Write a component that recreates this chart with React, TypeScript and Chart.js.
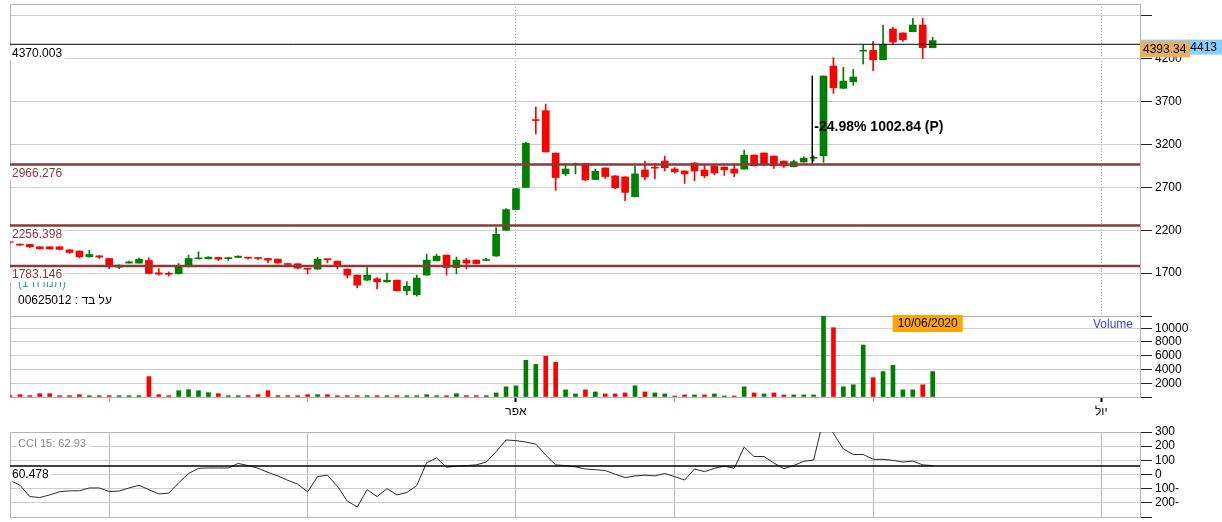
import React, { useEffect, useRef } from 'react';
import { Chart, registerables } from 'chart.js';
Chart.register(...registerables);

const FAMILY = '"Liberation Sans", Arial, "DejaVu Sans", sans-serif';
Chart.defaults.font.family = FAMILY;

// ---- data ----
const opens = [2110, 2035, 2035, 2007, 2007, 2007, 1972, 1957, 1891, 1902, 1871, 1770, 1817, 1817, 1848, 1704, 1690, 1692, 1774, 1867, 1867, 1883, 1869, 1883, 1883, 1875, 1871, 1863, 1805, 1809, 1749, 1747, 1860, 1840, 1747, 1677, 1618, 1634, 1599, 1618, 1494, 1447, 1677, 1844, 1910, 1766, 1852, 1852, 1848, 1900, 2200, 2442, 2700, 3490, 3596, 3100, 2858, 2965, 2981, 2792, 2927, 2835, 2823, 2592, 2904, 2928, 3008, 2915, 2892, 2985, 2904, 2950, 2937, 2914, 2914, 3077, 3101, 3066, 3007, 2941, 2996, 3040, 3070, 4116, 3856, 3933, 4290, 4299, 4190, 4548, 4502, 4517, 4595, 4330];
const highs = [2125, 2038, 2037, 2010, 2010, 2010, 1974, 1960, 1968, 1905, 1874, 1797, 1840, 1875, 1879, 1751, 1715, 1813, 1910, 1949, 1892, 1885, 1887, 1902, 1885, 1879, 1873, 1865, 1808, 1812, 1752, 1883, 1862, 1842, 1749, 1679, 1766, 1649, 1700, 1620, 1603, 1677, 1922, 1922, 1912, 1887, 1871, 1855, 1875, 2231, 2454, 2690, 3225, 3638, 3673, 3102, 2981, 2985, 2983, 2915, 2929, 2837, 2825, 2950, 3008, 2981, 3065, 2932, 2894, 2992, 2958, 2952, 2939, 2961, 3136, 3079, 3103, 3068, 3009, 3019, 3058, 3070, 4000, 4214, 4101, 4077, 4365, 4404, 4595, 4568, 4504, 4673, 4673, 4451];
const lows = [2050, 2022, 2000, 1982, 1980, 1972, 1930, 1879, 1888, 1871, 1751, 1751, 1815, 1815, 1694, 1676, 1665, 1690, 1772, 1865, 1865, 1848, 1848, 1881, 1863, 1856, 1821, 1817, 1774, 1750, 1692, 1744, 1821, 1750, 1645, 1529, 1616, 1517, 1592, 1492, 1447, 1431, 1675, 1842, 1677, 1692, 1750, 1810, 1846, 1895, 2198, 2440, 2698, 3323, 3113, 2665, 2838, 2858, 2777, 2790, 2804, 2685, 2546, 2590, 2788, 2800, 2892, 2865, 2746, 2777, 2812, 2846, 2840, 2825, 2912, 2949, 2953, 2922, 2934, 2939, 2994, 3007, 2992, 3797, 3850, 3891, 4140, 4062, 4188, 4369, 4404, 4515, 4202, 4328];
const closes = [2060, 2027, 2007, 1984, 1982, 1977, 1941, 1891, 1918, 1887, 1774, 1793, 1832, 1863, 1696, 1688, 1686, 1770, 1871, 1872, 1887, 1863, 1872, 1898, 1875, 1871, 1852, 1819, 1801, 1758, 1746, 1863, 1857, 1782, 1677, 1560, 1677, 1599, 1618, 1494, 1548, 1642, 1852, 1898, 1766, 1852, 1817, 1812, 1853, 2154, 2442, 2685, 3215, 3480, 3115, 2815, 2915, 2975, 2789, 2888, 2827, 2696, 2642, 2858, 2823, 2925, 2930, 2881, 2858, 2892, 2835, 2869, 2906, 2867, 3077, 2953, 2961, 2953, 2950, 3000, 3042, 3046, 4000, 3863, 3941, 3988, 4300, 4190, 4369, 4396, 4424, 4595, 4330, 4413];
const volumes = [190, 340, 190, 485, 485, 190, 190, 340, 190, 190, 190, 190, 190, 190, 2960, 340, 190, 920, 1070, 920, 630, 485, 190, 190, 190, 340, 920, 190, 190, 190, 340, 340, 340, 190, 190, 190, 190, 190, 190, 190, 190, 190, 340, 190, 190, 485, 190, 190, 200, 590, 1480, 1630, 5340, 4740, 5930, 5040, 1040, 445, 1040, 740, 445, 445, 590, 1630, 740, 590, 445, 150, 300, 300, 300, 445, 150, 150, 1480, 590, 445, 590, 300, 300, 300, 300, 12000, 10080, 1480, 1780, 7560, 2820, 3700, 4600, 1040, 1040, 1780, 3700];
const cci = [-40, -76, -156, -163, -144, -122, -115, -115, -95, -95, -120, -117, -95, -76, -107, -137, -132, -59, 7, 44, 46, 46, 46, 78, 63, 44, 15, -10, -41, -68, -122, -15, -5, -83, -188, -229, -107, -156, -100, -144, -127, -78, 83, 117, 51, 59, 63, 68, 88, 161, 244, 239, 229, 215, 137, 68, 63, 54, 39, 34, 28, 2, -22, -10, -5, -10, 7, -15, -39, 39, 20, 44, 59, 44, 193, 127, 127, 81, 41, 63, 93, 102, 390, 290, 180, 141, 141, 107, 107, 100, 88, 95, 68, 63];

const monthTicks = [10, 30, 51, 67, 87, 110];
const monthLabels = ['', '', 'אפר', '', '', 'יול'];
const monthDotted = [51, 110];

const priceTicks = [1200, 1700, 2200, 2700, 3200, 3700, 4200, 4700];
const priceTickLabels = ['', '1700', '2200', '2700', '3200', '3700', '4200', ''];
const volumeTicks = [0, 2000, 4000, 6000, 8000, 10000, 11780];
const volumeTickLabels = ['', '2000', '4000', '6000', '8000', '10000', ''];
const cciTicks = [-300, -200, -100, 0, 100, 200, 300];
const cciTickLabels = ['', '200-', '100-', '0', '100', '200', '300'];

const levels = [4370.003, 2966.276, 2256.398, 1783.146];
const cciLevel = 60.478;
const lastPrice = 4393.34;
const lastPriceAlt = 4413;
const measureX = 80.87;
const measureTop = 4002;
const measureBottom = 2966.276;
const measureTextPrice = 3406;
const measureText = '-24.98% 1002.84 (P)';
const dateLabel = '10/06/2020';
const dateLabelIndex = 92.5;
const cciLabel = 'CCI 15: 62.93';
const symbolLabel = 'על בד : 00625012';
const noteLabel = '(תנודה 1)';
const volumeLabel = 'Volume';

const X_MIN = 0;
const X_MAX = 113.9;
const GREEN = '#008000';
const RED = '#ff0000';
const BROWN = '#8b3a3a';
const GRID = '#cfcfcf';
const FRAME = '#b4b4b4';

const idx = opens.map((_, i) => i);
const candleColors = idx.map(i => (closes[i] >= opens[i] ? GREEN : RED));
const volumeColors = idx.map(i => (i > 0 && closes[i] >= closes[i - 1] ? GREEN : RED));

const framePlugin = {
  id: 'frame',
  beforeDatasetsDraw(chart: any) {
    const { ctx, chartArea } = chart;
    ctx.save();
    ctx.strokeStyle = FRAME;
    ctx.lineWidth = 1;
    ctx.strokeRect(Math.round(chartArea.left) + 0.5, Math.round(chartArea.top) + 0.5,
      Math.round(chartArea.right - chartArea.left), Math.round(chartArea.bottom - chartArea.top));
    ctx.restore();
  },
};

const yRight = (ticks: number[], labels: string[], min: number, max: number) => ({
  type: 'linear',
  position: 'right',
  min,
  max,
  afterBuildTicks: (s: any) => { s.ticks = ticks.map(v => ({ value: v })); },
  afterFit: (s: any) => { s.width = 82; s.paddingTop = 0; s.paddingBottom = 0; },
  ticks: {
    autoSkip: false,
    callback: (_v: any, i: number) => labels[i],
    color: '#000', padding: 3, font: { size: 12, family: FAMILY },
  },
  grid: { color: GRID, tickColor: '#222', tickLength: 12 },
  border: { display: true, color: '#b0b0b0' },
});

export default function App() {
  const priceRef = useRef<HTMLCanvasElement>(null);
  const volRef = useRef<HTMLCanvasElement>(null);
  const cciRef = useRef<HTMLCanvasElement>(null);

  useEffect(() => {
    const charts: Chart[] = [];

    // ---------- price pane ----------
    const priceLabels = {
      id: 'priceLabels',
      afterDatasetsDraw(chart: any) {
        const { ctx, chartArea } = chart;
        const ys = chart.scales.y;
        const xs = chart.scales.x;
        const left = chartArea.left;
        ctx.save();
        ctx.textBaseline = 'middle';
        ctx.font = `12px ${FAMILY}`;
        ctx.direction = 'rtl';
        ctx.textAlign = 'left';
        ctx.fillStyle = '#3aa0a0';
        ctx.fillText(noteLabel, 18, ys.getPixelForValue(levels[3]) + 18);
        ctx.direction = 'ltr';
        levels.forEach((v, k) => {
          const y = ys.getPixelForValue(v);
          const txt = v.toFixed(3);
          const w = ctx.measureText(txt).width;
          ctx.fillStyle = '#fff';
          ctx.fillRect(left - 1, y + 2, w + 6, 14);
          ctx.fillStyle = k === 0 ? '#000' : BROWN;
          ctx.fillText(txt, left + 2, y + 9);
        });
        ctx.direction = 'rtl';
        ctx.fillStyle = '#000';
        ctx.fillText(symbolLabel, 18, ys.getPixelForValue(levels[3]) + 35);
        ctx.direction = 'ltr';
        ctx.font = `bold 14px ${FAMILY}`;
        ctx.fillStyle = '#000';
        ctx.fillText(measureText, xs.getPixelForValue(measureX) + 2, ys.getPixelForValue(measureTextPrice));
        ctx.font = `12px ${FAMILY}`;
        const yb = ys.getPixelForValue(lastPriceAlt);
        ctx.fillStyle = '#87cefa';
        ctx.fillRect(chartArea.right, yb - 1, 82, 15);
        ctx.fillStyle = '#000';
        ctx.textAlign = 'right';
        ctx.fillText(String(lastPriceAlt), chartArea.right + 77, yb + 7);
        const yo = ys.getPixelForValue(lastPrice);
        ctx.fillStyle = '#e8b060';
        ctx.fillRect(chartArea.right, yo - 1, 50, 16);
        ctx.fillStyle = '#000';
        ctx.textAlign = 'left';
        ctx.fillText(lastPrice.toFixed(2), chartArea.right + 3, yo + 7.5);
        ctx.restore();
      },
    };

    charts.push(new Chart(priceRef.current as HTMLCanvasElement, {
      type: 'bar',
      data: {
        datasets: [
          ...levels.map((v, k) => ({
            type: 'line',
            data: [{ x: X_MIN, y: v }, { x: X_MAX, y: v }],
            borderColor: k === 0 ? '#000' : BROWN,
            borderWidth: k === 0 ? 1 : 2.5,
            pointRadius: 0,
            order: 0,
          })),
          {
            type: 'line',
            data: [{ x: measureX, y: measureTop }, { x: measureX, y: measureBottom }],
            borderColor: '#000',
            borderWidth: 1,
            pointRadius: 0,
            order: 0,
          },
          {
            type: 'bar',
            data: idx.map(i => ({ x: i, y: [opens[i], closes[i]] })),
            backgroundColor: candleColors,
            barThickness: 7,
            grouped: false,
            minBarLength: 1,
            order: 1,
          },
          {
            type: 'bar',
            data: idx.map(i => ({ x: i, y: [lows[i], highs[i]] })),
            backgroundColor: candleColors,
            barThickness: 1,
            grouped: false,
            minBarLength: 1,
            order: 2,
          },
        ] as any,
      },
      options: {
        responsive: false,
        animation: false,
        events: [],
        layout: { padding: { left: 10, top: 4, right: 0, bottom: 2 } },
        plugins: { legend: { display: false }, tooltip: { enabled: false } },
        scales: {
          x: {
            type: 'linear', min: X_MIN, max: X_MAX, offset: false,
            afterBuildTicks: (s: any) => { s.ticks = monthDotted.map(v => ({ value: v })); },
            afterFit: (s: any) => { s.height = 0; s.paddingLeft = 0; s.paddingRight = 0; },
            ticks: { display: false },
            grid: { offset: false, color: '#a8a8a8', drawTicks: false },
            border: { display: false, dash: [1, 2] },
          },
          y: yRight(priceTicks, priceTickLabels, 1200, 4840),
        } as any,
      },
      plugins: [framePlugin, priceLabels],
    } as any));

    // ---------- volume pane ----------
    const volLabels = {
      id: 'volLabels',
      afterDatasetsDraw(chart: any) {
        const { ctx, chartArea } = chart;
        const xs = chart.scales.x;
        ctx.save();
        ctx.font = `12px ${FAMILY}`;
        ctx.textBaseline = 'middle';
        ctx.fillStyle = '#3c3cff';
        ctx.textAlign = 'right';
        ctx.fillText(volumeLabel, chartArea.right - 7, chartArea.top + 9);
        const cx = xs.getPixelForValue(dateLabelIndex);
        ctx.fillStyle = '#ffa500';
        ctx.fillRect(cx - 35, chartArea.top - 1, 70, 17);
        ctx.fillStyle = '#000';
        ctx.textAlign = 'center';
        ctx.fillText(dateLabel, cx, chartArea.top + 8);
        ctx.restore();
      },
    };

    charts.push(new Chart(volRef.current as HTMLCanvasElement, {
      type: 'bar',
      data: {
        datasets: [{
          data: idx.map(i => ({ x: i, y: volumes[i] })),
          backgroundColor: volumeColors,
          barThickness: 4,
          grouped: false,
        }] as any,
      },
      options: {
        responsive: false,
        animation: false,
        events: [],
        layout: { padding: { left: 10, top: 6, right: 0, bottom: 0 } },
        plugins: { legend: { display: false }, tooltip: { enabled: false } },
        scales: {
          x: {
            type: 'linear', min: X_MIN, max: X_MAX, offset: false,
            afterBuildTicks: (s: any) => { s.ticks = monthTicks.map(v => ({ value: v })); },
            afterFit: (s: any) => { s.height = 28; s.paddingLeft = 0; s.paddingRight = 0; },
            ticks: {
              autoSkip: false, maxRotation: 0, minRotation: 0, padding: 2, color: '#000',
              font: { size: 12, family: FAMILY },
              callback: (_v: any, i: number) => monthLabels[i],
            },
            grid: {
              offset: false, drawOnChartArea: false, drawTicks: true, tickLength: 5,
              tickColor: (c: any) => (monthLabels[c.index] ? '#000' : '#f08080'),
              tickWidth: (c: any) => (monthLabels[c.index] ? 2 : 1),
            },
            border: { display: true, color: '#a0a0a0' },
          },
          y: yRight(volumeTicks, volumeTickLabels, 0, 11780),
        } as any,
      },
      plugins: [framePlugin, volLabels],
    } as any));

    // ---------- CCI pane ----------
    const cciLabels = {
      id: 'cciLabels',
      afterDatasetsDraw(chart: any) {
        const { ctx, chartArea } = chart;
        const ys = chart.scales.y;
        ctx.save();
        ctx.textBaseline = 'middle';
        ctx.font = `11px ${FAMILY}`;
        const w1 = ctx.measureText(cciLabel).width;
        ctx.fillStyle = '#fff';
        ctx.fillRect(16, chartArea.top + 5, w1 + 6, 14);
        ctx.fillStyle = '#888';
        ctx.fillText(cciLabel, 18, chartArea.top + 12);
        ctx.font = `12px ${FAMILY}`;
        const y = ys.getPixelForValue(cciLevel);
        const txt = cciLevel.toFixed(3);
        const w2 = ctx.measureText(txt).width;
        ctx.fillStyle = '#fff';
        ctx.fillRect(chartArea.left - 1, y + 1.5, w2 + 5, 14);
        ctx.fillStyle = '#000';
        ctx.fillText(txt, chartArea.left + 2, y + 8.5);
        ctx.restore();
      },
    };

    charts.push(new Chart(cciRef.current as HTMLCanvasElement, {
      type: 'line',
      data: {
        datasets: [
          {
            data: [{ x: X_MIN, y: cciLevel }, { x: X_MAX, y: cciLevel }],
            borderColor: '#000', borderWidth: 1.5, pointRadius: 0, order: 0,
          },
          {
            data: idx.map(i => ({ x: i, y: cci[i] })),
            borderColor: '#2a2a2a', borderWidth: 1, pointRadius: 0, tension: 0, order: 1,
          },
        ] as any,
      },
      options: {
        responsive: false,
        animation: false,
        events: [],
        layout: { padding: { left: 10, top: 7, right: 0, bottom: 5 } },
        plugins: { legend: { display: false }, tooltip: { enabled: false } },
        scales: {
          x: {
            type: 'linear', min: X_MIN, max: X_MAX, offset: false,
            afterBuildTicks: (s: any) => { s.ticks = monthTicks.map(v => ({ value: v })); },
            afterFit: (s: any) => { s.height = 0; s.paddingLeft = 0; s.paddingRight = 0; },
            ticks: { display: false },
            grid: { offset: false, color: '#b8b8b8', drawTicks: false },
            border: { display: false },
          },
          y: yRight(cciTicks, cciTickLabels, -300, 300),
        } as any,
      },
      plugins: [framePlugin, cciLabels],
    } as any));

    return () => { charts.forEach(c => c.destroy()); };
  }, []);

  const cs = (top: number, height: number): React.CSSProperties => ({
    position: 'absolute', left: 0, top, width: 1222, height, display: 'block',
  });

  return (
    <div style={{ position: 'fixed', left: 0, top: 0, width: 1222, height: 522, background: '#fff', overflow: 'hidden' }}>
      <canvas ref={priceRef} width={1222} height={318} style={cs(0, 318)} />
      <canvas ref={volRef} width={1222} height={115} style={cs(310, 115)} />
      <canvas ref={cciRef} width={1222} height={97} style={cs(425, 97)} />
    </div>
  );
}
